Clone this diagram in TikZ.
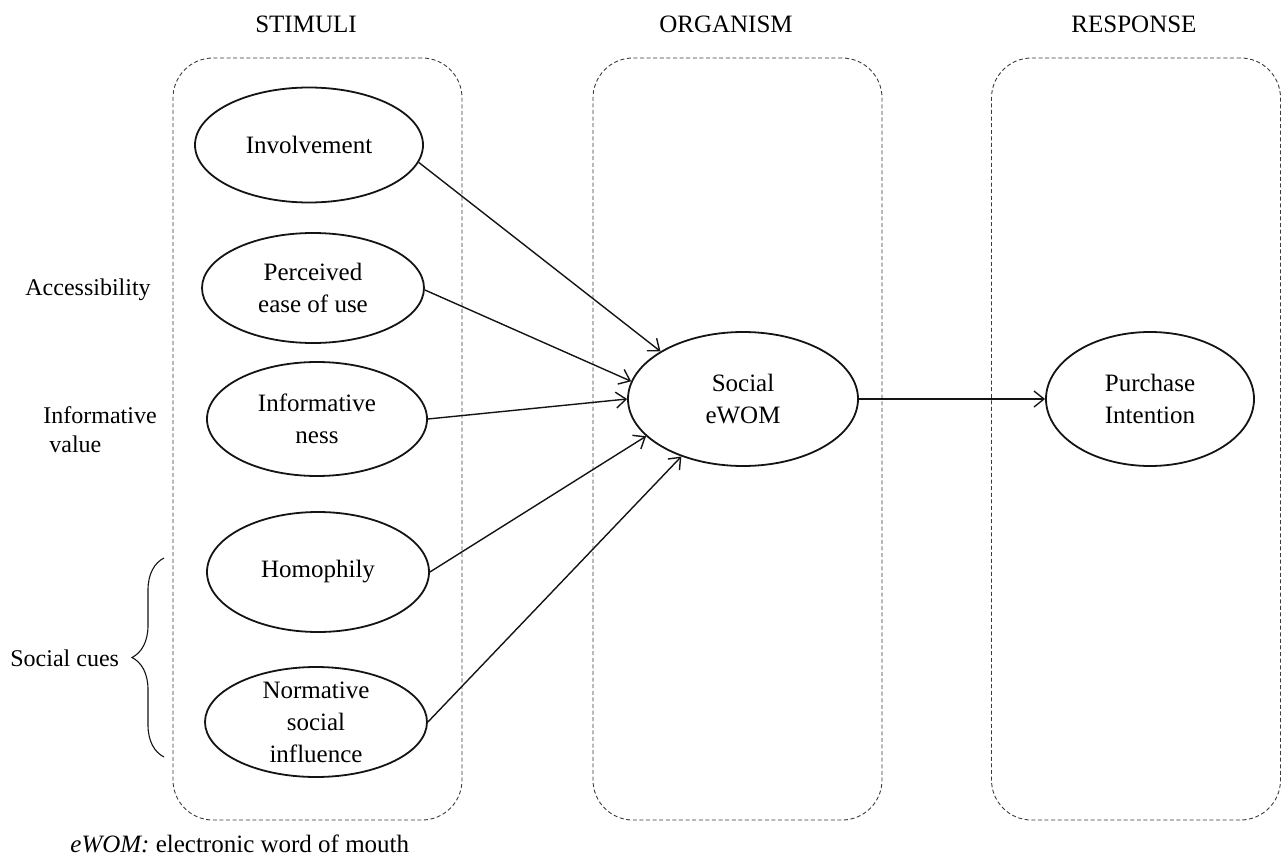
\documentclass[tikz,border=0pt]{standalone}
\usepackage{fontspec}
\setmainfont{Liberation Serif}
\usetikzlibrary{positioning,shapes.geometric,arrows.meta,decorations.pathreplacing}
\definecolor{ink}    {HTML}{141414}
\definecolor{dashink}{HTML}{3A3A3A}
\tikzset{
  >={Straight Barb[length=5pt,width=8pt]},
  every node/.style={font=\fontsize{12.5}{16}\selectfont},
  % --- nodes
  construct/.style = {ellipse, draw=ink, line width=0.9pt, inner sep=0pt, align=center},
  stage/.style     = {draw=dashink, dash pattern=on 2pt off 1.3pt, line width=0.45pt,
                      rounded corners=20pt, minimum width=144.5pt, minimum height=381pt,
                      inner sep=0pt},
  title/.style     = {inner sep=0pt},
  side/.style      = {inner sep=0pt, align=left, anchor=west,
                      font=\fontsize{12}{14.5}\selectfont},
  % --- edges
  e/.style         = {->, line width=0.7pt, draw=ink},
  cue/.style       = {decorate, decoration={brace, amplitude=16pt}, line width=0.55pt, draw=ink},
}
\begin{document}
\begin{tikzpicture}[x=0.5pt, y=-0.5pt]
  \useasboundingbox (0,0) rectangle (1285,856);
  % stages
  \node[stage] (stim) at (317.5,439) {};
  \node[stage] (org)  at (737.5,439) {};
  \node[stage] (resp) at (1136,439) {};
  \node[title] (stimT) at (306,24)  {STIMULI};
  \node[title] (orgT)  at (726,24)  {ORGANISM};
  \node[title] (respT) at (1134,24) {RESPONSE};

  % constructs
  \node[construct, minimum width=114pt, minimum height=57.5pt] (inv)  at (309,145) {Involvement};
  \node[construct, minimum width=111pt, minimum height=55pt]   (peou) at (313,288) {Perceived\\ease of use};
  \node[construct, minimum width=110pt, minimum height=57pt]   (info) at (317,419) {Informative\\ness};
  \node[construct, minimum width=111pt, minimum height=60pt]   (homo) at (318,572) {Homophily};
  \node[construct, minimum width=111pt, minimum height=55pt, inner ysep=-2pt] (nsi) at (316,722) {Normative\\social\\influence};
  \node[construct, minimum width=115pt, minimum height=67pt]   (ewom) at (743,399) {Social\\eWOM};
  \node[construct, minimum width=104pt, minimum height=67pt]   (pi)   at (1150,399) {Purchase\\Intention};

  % side labels
  \node[side] (acc)  at (25,290) {Accessibility};
  \node[side] (infv) at (43,430) {Informative\\\ value};
  \node[side] (cues) at (10,658) {Social cues};
  \coordinate (cuetop) at (164,558);
  \coordinate (cuebot) at (164,757);
  \draw[cue] (cuebot) -- (cuetop);

  \draw[e] (inv.-9)    -- (ewom.150);
  \draw[e] (peou.-1)   -- (ewom.171);
  \draw[e] (info.east) -- (ewom.west);
  \draw[e] (homo.east) -- (ewom.201);
  \draw[e] (nsi.east)  -- (ewom.223);
  \draw[e] (ewom.east) -- (pi.west);

  \node[anchor=base west, inner sep=0pt] (note) at (70,852) {\textit{eWOM:} electronic word of mouth};
\end{tikzpicture}
\end{document}
